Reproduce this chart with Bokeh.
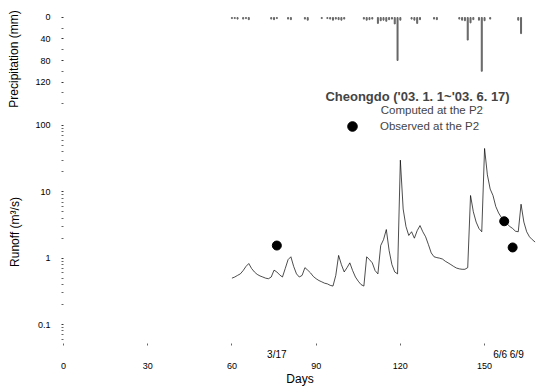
from bokeh.plotting import figure
from bokeh.layouts import column
from bokeh.models import (Range1d, FixedTicker, NumeralTickFormatter, Label,
                          Legend, LegendItem, ColumnDataSource, LinearAxis)
from bokeh.embed import file_html
from bokeh.resources import INLINE

# ---------------- data ----------------
run_days = list(range(60, 169))
runoff = [0.50, 0.52, 0.55, 0.58, 0.65, 0.75, 0.83, 0.70, 0.62, 0.57,
          0.54, 0.52, 0.50, 0.49, 0.52, 0.66, 0.62, 0.56, 0.52, 0.70,
          0.95, 1.05, 0.75, 0.58, 0.52, 0.55, 0.72, 0.66, 0.60, 0.53,
          0.49, 0.46, 0.44, 0.42, 0.41, 0.39, 0.38, 0.55, 1.10, 0.80,
          0.62, 0.72, 0.85, 0.65, 0.52, 0.45, 0.40, 0.38, 1.05, 0.95,
          0.85, 0.65, 0.58, 1.55, 1.9, 2.7, 1.3, 0.8, 0.62, 0.58,
          30.0, 5.5, 3.0, 2.2, 2.5, 2.0, 2.6, 3.1, 2.5, 2.1,
          1.6, 1.2, 1.05, 1.02, 1.0, 0.97, 0.90, 0.85, 0.80, 0.75,
          0.71, 0.69, 0.68, 0.68, 0.72, 8.8, 5.0, 3.5, 2.8, 2.5,
          45.0, 18.0, 11.0, 8.8, 6.0, 4.8, 4.1, 3.7, 3.3, 3.0,
          2.8, 2.55, 2.5, 6.5, 3.5, 2.5, 2.1, 1.9, 1.75]

obs_days = [76, 157, 160]
obs_runoff = [1.55, 3.6, 1.45]
obs_labels = ["3/17", "6/6 6/9"]

rain_days = [60, 61, 62, 64, 65, 66, 74, 75, 76, 80, 81, 86, 87, 92, 94, 95, 96, 97,
             98, 99, 100, 107, 108, 109, 110, 112, 113, 114, 115, 116, 117, 118, 119,
             120, 124, 125, 126, 127, 132, 133, 141, 142, 143, 144, 145, 146, 148,
             149, 150, 152, 162, 163]
rain_mm = [2, 2, 3, 3, 2, 4, 3, 4, 2, 3, 4, 3, 5, 2, 2, 3, 5, 3,
           4, 5, 3, 3, 5, 4, 3, 11, 6, 5, 7, 4, 3, 12, 80,
           5, 3, 5, 11, 4, 3, 4, 3, 5, 6, 42, 10, 4, 5,
           100, 6, 3, 5, 30]

x_ticks = [0, 30, 60, 90, 120, 150]
precip_ticks = [0, 40, 80, 120]
precip_minor = [20, 60, 100, 140, 160]
runoff_ticks = [0.1, 1, 10, 100]

FONT = "Liberation Sans"

# ---------------- layout ----------------
x_range = Range1d(0, 168.5)

p1 = figure(width=536, height=118, x_range=x_range, y_range=Range1d(186, -31.6),
            output_backend="svg", toolbar_location=None,
            min_border_left=63, min_border_right=0, min_border_top=0,
            min_border_bottom=1)
p2 = figure(width=536, height=270, x_range=x_range, y_range=Range1d(0.0518, 118.7),
            y_axis_type="log", output_backend="svg", toolbar_location=None,
            min_border_left=63, min_border_right=0, min_border_top=2,
            min_border_bottom=44)


def style_axis(ax):
    ax.axis_line_color = None
    ax.major_tick_line_color = "#333333"
    ax.major_tick_in = 0
    ax.major_tick_out = 2
    ax.minor_tick_line_color = "#666666"
    ax.minor_tick_in = 0
    ax.minor_tick_out = 2
    ax.major_label_text_font = FONT
    ax.major_label_text_font_size = "9px"
    ax.major_label_text_color = "black"
    ax.axis_label_text_font = FONT
    ax.axis_label_text_font_size = "12px"
    ax.axis_label_text_font_style = "normal"
    ax.axis_label_text_color = "black"


for p in (p1, p2):
    p.outline_line_color = None
    p.grid.visible = False
    p.background_fill_color = "white"
    p.border_fill_color = "white"
    for ax in p.axis:
        style_axis(ax)

# precipitation panel
p1.xaxis.visible = False
p1.yaxis.ticker = FixedTicker(ticks=precip_ticks, minor_ticks=precip_minor)
p1.yaxis.axis_label = "Precipitation (mm)"
p1.yaxis.major_label_standoff = 11
p1.yaxis.axis_label_standoff = 11
p1.vbar(x=rain_days, top=rain_mm, bottom=0, width=0.35, color="#666666")

# runoff panel
src = ColumnDataSource(dict(day=run_days, q=runoff))
line_r = p2.line("day", "q", source=src, line_color="black", line_width=0.7)
obs_r = p2.scatter(obs_days, obs_runoff, size=9, marker="circle",
                   fill_color="black", line_color="black")

minor = [m * 10 ** e for e in (-2, -1, 0, 1, 2) for m in range(2, 10)]
p2.yaxis.ticker = FixedTicker(ticks=runoff_ticks, minor_ticks=minor)
p2.yaxis.formatter = NumeralTickFormatter(format="0[.][0]")
p2.yaxis.axis_label = "Runoff (m³/s)"
p2.yaxis.major_label_standoff = 11
p2.yaxis.axis_label_standoff = 10

# first row under the frame: dates of the observations (+ day tick marks)
date_pos = [obs_days[0], (obs_days[1] + obs_days[2]) / 2]
date_axis = p2.xaxis[0]
date_axis.ticker = FixedTicker(ticks=date_pos, minor_ticks=x_ticks)
date_axis.major_label_overrides = {date_pos[0]: obs_labels[0], date_pos[1]: obs_labels[1]}
date_axis.major_tick_out = 0
date_axis.major_label_standoff = 3
date_axis.major_label_text_font_size = "10px"

# second row: day numbers and title
day_axis = LinearAxis(ticker=FixedTicker(ticks=x_ticks, minor_ticks=[]))
style_axis(day_axis)
day_axis.major_tick_out = 0
day_axis.major_label_standoff = 0
day_axis.axis_label = "Days"
day_axis.axis_label_standoff = 0
p2.add_layout(day_axis, "below")

# legend
p1.add_layout(Label(x=93.3, y=147, text="Cheongdo ('03. 1. 1~'03. 6. 17)",
                    text_font=FONT, text_font_size="13px", text_font_style="bold",
                    text_align="left", text_baseline="middle"))
p1.add_layout(Label(x=113.0, y=172, text="Computed at the P2",
                    text_font=FONT, text_font_size="11.5px",
                    text_align="left", text_baseline="middle"))

legend = Legend(items=[LegendItem(label="Observed at the P2", renderers=[obs_r])],
                location=(277, 205), padding=0, margin=0, spacing=0,
                glyph_width=24, glyph_height=24, label_height=24,
                label_standoff=16, border_line_color=None,
                background_fill_alpha=0,
                label_text_font=FONT, label_text_font_size="11.5px")
p2.add_layout(legend)

layout = column(p1, p2, spacing=0)

with open("out.html", "w") as f:
    f.write(file_html(layout, INLINE))
